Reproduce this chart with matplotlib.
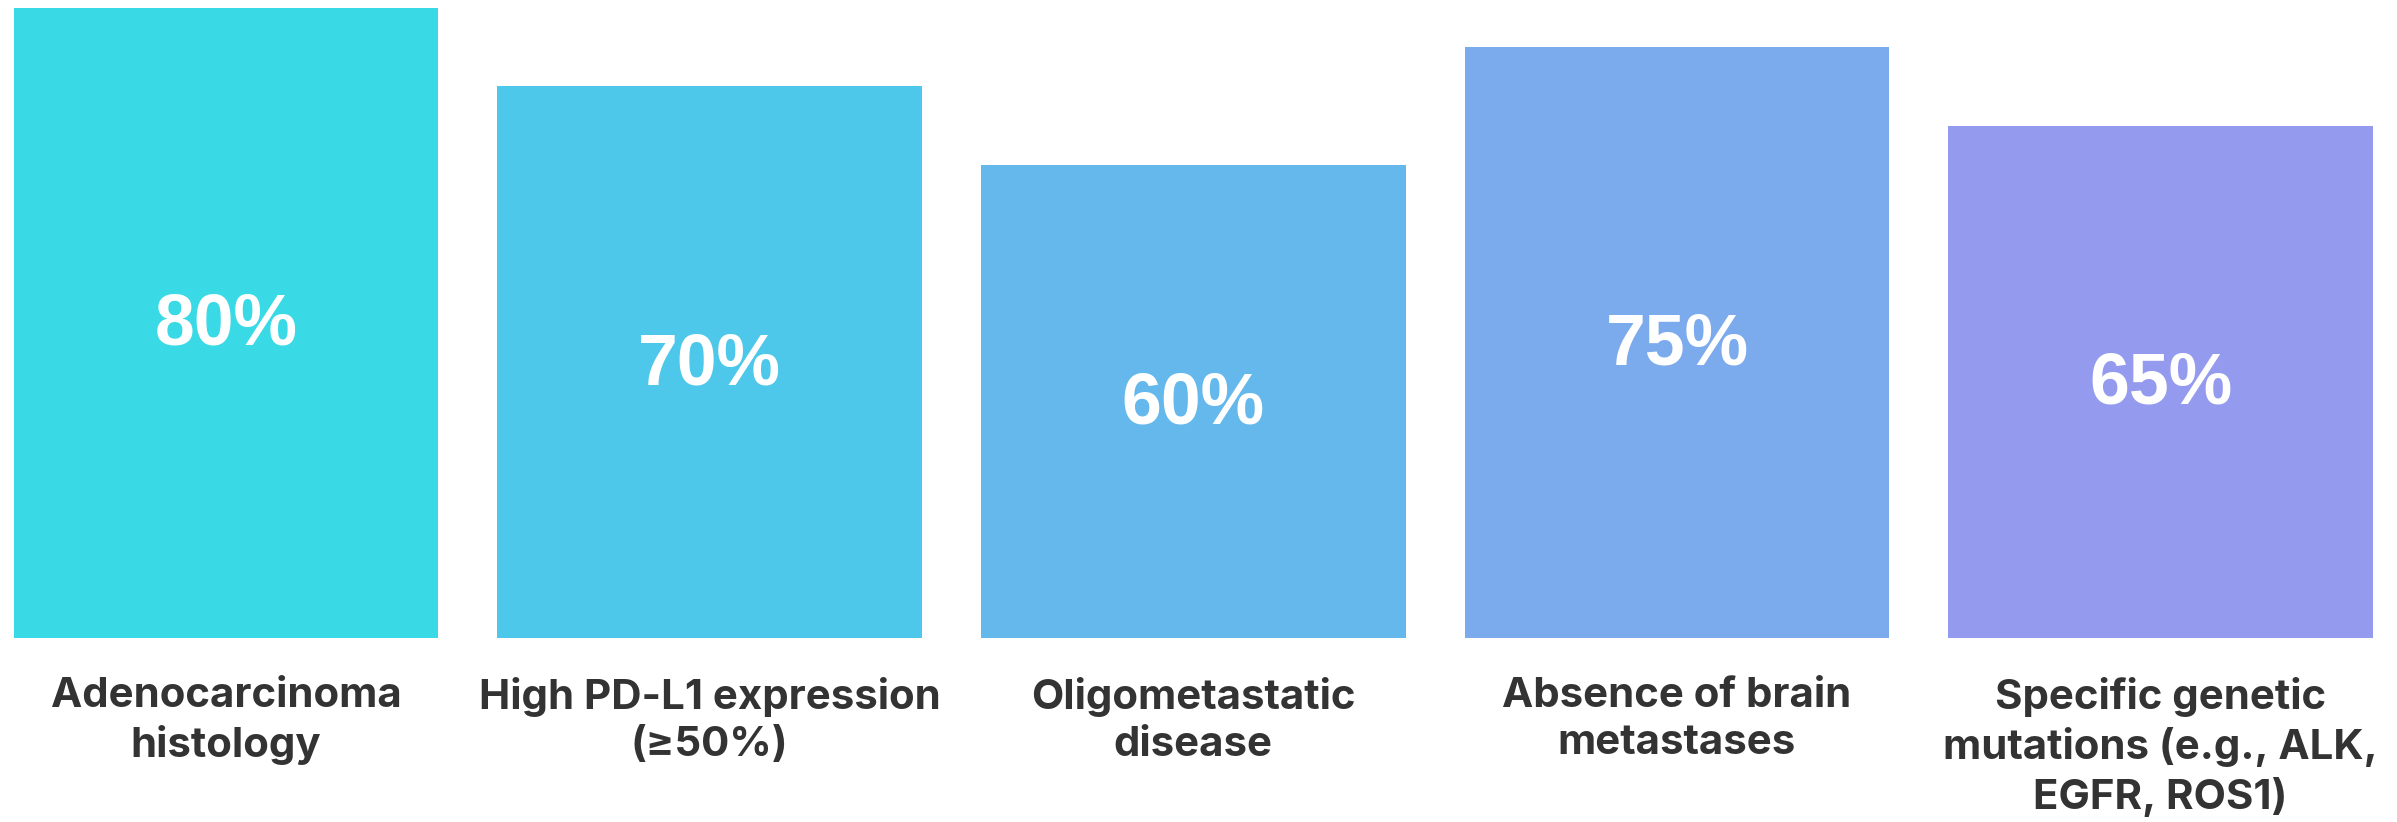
import matplotlib.pyplot as plt

categories = ["Adenocarcinoma\nhistology", "High PD-L1 expression\n(≥50%)", "Oligometastatic\ndisease",
              "Absence of brain\nmetastases", "Specific genetic\nmutations (e.g., ALK,\nEGFR, ROS1)"]
values = [80, 70, 60, 75, 65]
barColors = ["#3AD9E6", "#4EC8EA", "#65B8EB", "#7BAAED", "#949BEF"]

fig = plt.figure(figsize=(23.97, 8.22), dpi=100)
ax = fig.add_axes([0, 1 - 637.5 / 822, 1, (637.5 - 7.6) / 822])

x = list(range(len(values)))
ax.bar(x, values, width=0.878, color=barColors)

for i in range(len(values)):
    ax.text(x[i], values[i] / 2 - 0.4, f"{values[i]}%", ha="center", va="center",
            color="white", fontsize=51.5, fontweight="bold", family=["Liberation Sans", "DejaVu Sans"])
    ax.text(x[i], -5.0, categories[i], ha="center", va="top", color="#333333",
            fontsize=30.2, fontweight="bold", family=["Inter", "DejaVu Sans"], linespacing=1.32)

ax.set_xlim(-0.4677, 4.489)
ax.set_ylim(0, 80)
ax.axis("off")

fig.savefig("out.png", dpi=100)
